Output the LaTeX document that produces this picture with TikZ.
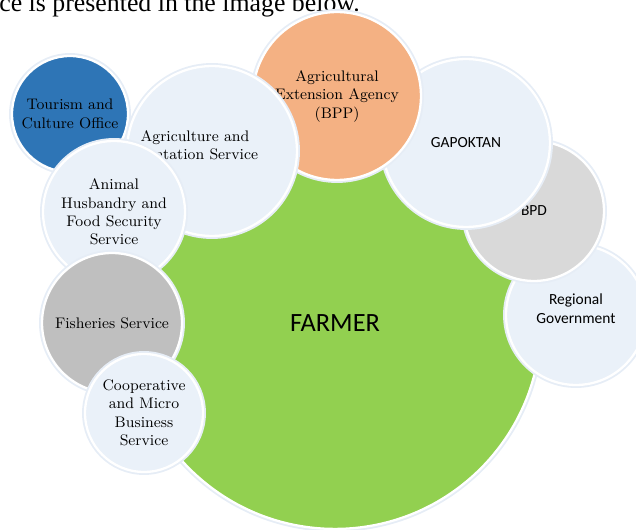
\documentclass[tikz,border=0pt]{standalone}
\usepackage{fontspec}
\newfontfamily\calibri{Carlito}
\newfontfamily\timesfont{Liberation Serif}
\definecolor{paleblue}{HTML}{EAF1F9}
\definecolor{halo}{HTML}{E6EDF6}
\definecolor{farmgreen}{HTML}{92D050}
\definecolor{tourblue}{HTML}{2E75B6}
\definecolor{bpporange}{HTML}{F4B183}
\definecolor{lightgrey}{HTML}{D9D9D9}
\definecolor{midgrey}{HTML}{BFBFBF}
\begin{document}
\begin{tikzpicture}[x=0.02cm, y=-0.02cm]
    \useasboundingbox (0,0) rectangle (636,530);

    \node[anchor=base west, inner sep=0pt, font=\timesfont\fontsize{14.7}{17}\selectfont] (intro) at (-1,12) {ce is presented in the image below.};

    \begin{scope}[
            every node/.style={inner sep=0pt, align=center},
            bubble/.style={circle, minimum size=#1*0.04cm,
                preaction={draw=halo, line width=3.4pt}, draw=white, line width=1.3pt},
            serif/.style={font=\fontsize{8.7}{10.5}\selectfont},
            sans/.style={font=\calibri\fontsize{8.8}{10.8}\selectfont}
        ]

        \node[bubble=206, fill=farmgreen, font=\calibri\fontsize{15}{18}\selectfont] (farmer) at (335,323) {FARMER};

        \node[bubble=70, fill=paleblue, label={[sans, yshift=0.12cm]center:Regional\\Government}] (region) at (576,315) {};
        \node[bubble=70, fill=lightgrey, sans] (bpd) at (534,211) {BPD};
        \node[bubble=84, fill=paleblue, sans] (gapoktan) at (466,143) {GAPOKTAN};
        \node[bubble=84, fill=bpporange, serif] (bpp) at (337,96) {Agricultural\\Extension Agency\\(BPP)};

        \node[bubble=58, fill=tourblue, serif] (tourism) at (70,114) {Tourism and\\Culture Office};
        \node[bubble=85, fill=paleblue, label={[serif, xshift=-0.34cm, yshift=0.12cm]center:Agriculture and\\Plantation Service}] (agri) at (212,151) {};
        \node[bubble=71, fill=paleblue, serif] (husbandry) at (114,212) {Animal\\Husbandry and\\Food Security\\Service};
        \node[bubble=70, fill=midgrey, serif] (fishery) at (112,323) {Fisheries Service};
        \node[bubble=59, fill=paleblue, serif] (coop) at (144,413) {Cooperative\\and Micro\\Business\\Service};
    \end{scope}
\end{tikzpicture}
\end{document}
